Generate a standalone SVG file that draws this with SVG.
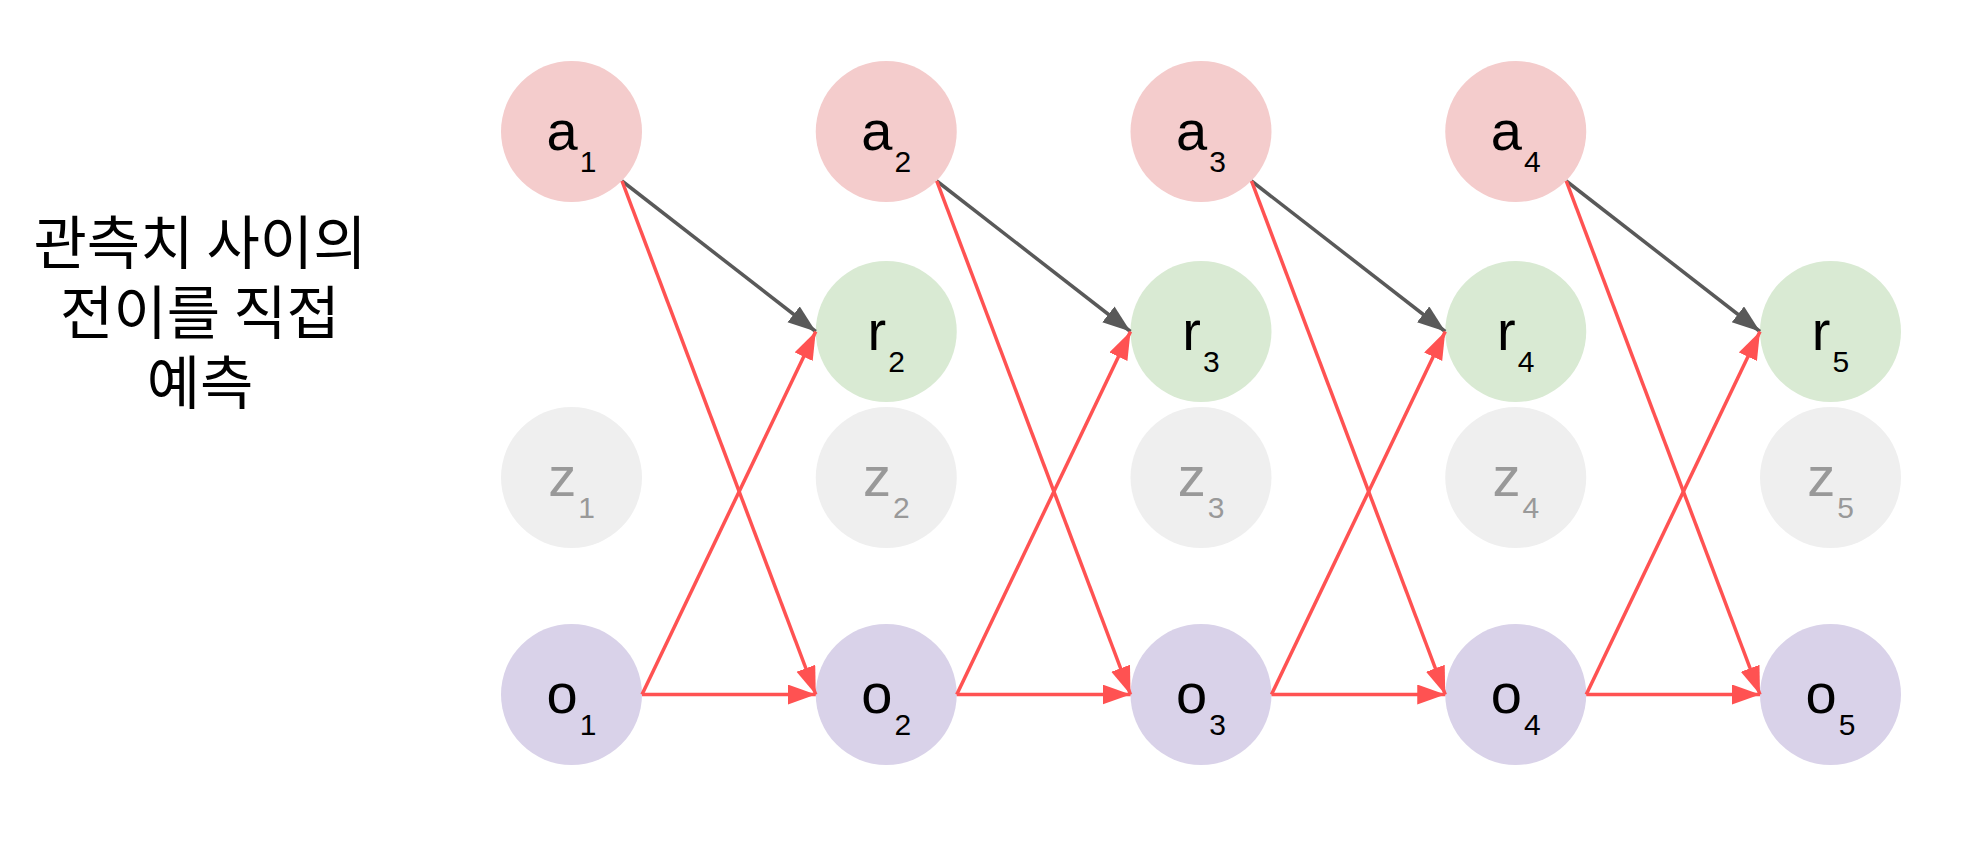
<svg xmlns="http://www.w3.org/2000/svg" width="1968" height="853" viewBox="0 0 1968 853">
<style>
.a{fill:#f4cccc}.r{fill:#d9ead3}.z{fill:#efefef}.o{fill:#d9d2e9}
.t{font-family:"Liberation Sans",Arial,sans-serif;font-size:56px;fill:#000;text-anchor:middle}
.tz{fill:#999999}
.s{font-size:30px}
.red{stroke:#ff5252;stroke-width:3.5;fill:none;marker-end:url(#mr)}
.gry{stroke:#595959;stroke-width:3.5;fill:none;marker-end:url(#mg)}
.k{font-family:"Noto Sans CJK KR","Noto Sans",sans-serif;font-size:58px;fill:#000;text-anchor:middle}
</style>
<defs>
<marker id="mr" markerUnits="userSpaceOnUse" markerWidth="30" markerHeight="22" refX="28" refY="10" orient="auto"><path d="M0,0 L28,10 L0,20 Z" fill="#ff5252"/></marker>
<marker id="mg" markerUnits="userSpaceOnUse" markerWidth="30" markerHeight="22" refX="28" refY="10" orient="auto"><path d="M0,0 L28,10 L0,20 Z" fill="#595959"/></marker>
</defs>
<rect width="1968" height="853" fill="#fff"/>
<g id="caption">
<text class="k" x="200" y="264">관측치 사이의</text>
<text class="k" x="200" y="334">전이를 직접</text>
<text class="k" x="200" y="404">예측</text>
</g>
<g id="col1">
<g id="a1"><circle class="a" cx="571.5" cy="131.5" r="70.5"/><text class="t" x="571.5" y="149.5">a<tspan class="s" dx="2" dy="22">1</tspan></text></g>
<g id="z1"><circle class="z" cx="571.5" cy="477.5" r="70.5"/><text class="t tz" x="571.5" y="495.5">z<tspan class="s" dx="2" dy="22">1</tspan></text></g>
<g id="o1"><circle class="o" cx="571.5" cy="694.5" r="70.5"/><text class="t" x="571.5" y="712.5">o<tspan class="s" dx="2" dy="22">1</tspan></text></g>
</g>
<g id="col2">
<g id="a2"><circle class="a" cx="886.25" cy="131.5" r="70.5"/><text class="t" x="886.25" y="149.5">a<tspan class="s" dx="2" dy="22">2</tspan></text></g>
<g id="r2"><circle class="r" cx="886.25" cy="331.5" r="70.5"/><text class="t" x="886.25" y="349.5">r<tspan class="s" dx="2" dy="22">2</tspan></text></g>
<g id="z2"><circle class="z" cx="886.25" cy="477.5" r="70.5"/><text class="t tz" x="886.25" y="495.5">z<tspan class="s" dx="2" dy="22">2</tspan></text></g>
<g id="o2"><circle class="o" cx="886.25" cy="694.5" r="70.5"/><text class="t" x="886.25" y="712.5">o<tspan class="s" dx="2" dy="22">2</tspan></text></g>
</g>
<g id="col3">
<g id="a3"><circle class="a" cx="1201" cy="131.5" r="70.5"/><text class="t" x="1201" y="149.5">a<tspan class="s" dx="2" dy="22">3</tspan></text></g>
<g id="r3"><circle class="r" cx="1201" cy="331.5" r="70.5"/><text class="t" x="1201" y="349.5">r<tspan class="s" dx="2" dy="22">3</tspan></text></g>
<g id="z3"><circle class="z" cx="1201" cy="477.5" r="70.5"/><text class="t tz" x="1201" y="495.5">z<tspan class="s" dx="2" dy="22">3</tspan></text></g>
<g id="o3"><circle class="o" cx="1201" cy="694.5" r="70.5"/><text class="t" x="1201" y="712.5">o<tspan class="s" dx="2" dy="22">3</tspan></text></g>
</g>
<g id="col4">
<g id="a4"><circle class="a" cx="1515.75" cy="131.5" r="70.5"/><text class="t" x="1515.75" y="149.5">a<tspan class="s" dx="2" dy="22">4</tspan></text></g>
<g id="r4"><circle class="r" cx="1515.75" cy="331.5" r="70.5"/><text class="t" x="1515.75" y="349.5">r<tspan class="s" dx="2" dy="22">4</tspan></text></g>
<g id="z4"><circle class="z" cx="1515.75" cy="477.5" r="70.5"/><text class="t tz" x="1515.75" y="495.5">z<tspan class="s" dx="2" dy="22">4</tspan></text></g>
<g id="o4"><circle class="o" cx="1515.75" cy="694.5" r="70.5"/><text class="t" x="1515.75" y="712.5">o<tspan class="s" dx="2" dy="22">4</tspan></text></g>
</g>
<g id="col5">
<g id="r5"><circle class="r" cx="1830.5" cy="331.5" r="70.5"/><text class="t" x="1830.5" y="349.5">r<tspan class="s" dx="2" dy="22">5</tspan></text></g>
<g id="z5"><circle class="z" cx="1830.5" cy="477.5" r="70.5"/><text class="t tz" x="1830.5" y="495.5">z<tspan class="s" dx="2" dy="22">5</tspan></text></g>
<g id="o5"><circle class="o" cx="1830.5" cy="694.5" r="70.5"/><text class="t" x="1830.5" y="712.5">o<tspan class="s" dx="2" dy="22">5</tspan></text></g>
</g>
<g id="connectors">
<line class="gry" x1="622" y1="181" x2="815.75" y2="331.5"/>
<line class="red" x1="622" y1="181" x2="815.75" y2="694.5"/>
<line class="red" x1="642" y1="694.5" x2="815.75" y2="331.5"/>
<line class="red" x1="642" y1="694.5" x2="815.75" y2="694.5"/>

<line class="gry" x1="936.75" y1="181" x2="1130.5" y2="331.5"/>
<line class="red" x1="936.75" y1="181" x2="1130.5" y2="694.5"/>
<line class="red" x1="956.75" y1="694.5" x2="1130.5" y2="331.5"/>
<line class="red" x1="956.75" y1="694.5" x2="1130.5" y2="694.5"/>

<line class="gry" x1="1251.5" y1="181" x2="1445.25" y2="331.5"/>
<line class="red" x1="1251.5" y1="181" x2="1445.25" y2="694.5"/>
<line class="red" x1="1271.5" y1="694.5" x2="1445.25" y2="331.5"/>
<line class="red" x1="1271.5" y1="694.5" x2="1445.25" y2="694.5"/>

<line class="gry" x1="1566.25" y1="181" x2="1760" y2="331.5"/>
<line class="red" x1="1566.25" y1="181" x2="1760" y2="694.5"/>
<line class="red" x1="1586.25" y1="694.5" x2="1760" y2="331.5"/>
<line class="red" x1="1586.25" y1="694.5" x2="1760" y2="694.5"/>
</g>
</svg>
